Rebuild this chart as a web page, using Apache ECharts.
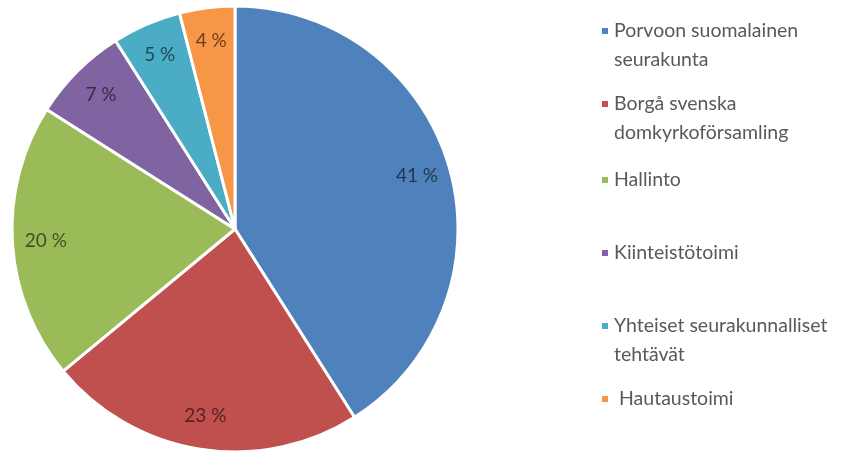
<!DOCTYPE html>
<html>
<head>
<meta charset="utf-8">
<script src="https://cdn.jsdelivr.net/npm/echarts@6/dist/echarts.min.js"></script>
<style>
  html, body { margin: 0; padding: 0; background: #fff; }
  #chart { width: 867px; height: 452px; }
</style>
</head>
<body>
<div id="chart"></div>
<script>
var names = [
  "Porvoon suomalainen\nseurakunta",
  "Borgå svenska\ndomkyrkoförsamling",
  "Hallinto",
  "Kiinteistötoimi",
  "Yhteiset seurakunnalliset\ntehtävät",
  " Hautaustoimi"
];
var values = [41, 23, 20, 7, 5, 4];
var colors = ["#4F81BD", "#C0504D", "#9BBB59", "#8064A2", "#4BACC6", "#F79646"];
// legend marker rows (y of marker centre)
var legendRows = [31, 104, 180, 253, 326, 399];

var myChart = echarts.init(document.getElementById("chart"));

var pieData = names.map(function (n, i) {
  return { name: n, value: values[i], itemStyle: { color: colors[i] } };
});

var lineH = 29;
var legends = names.map(function (n, i) {
  var lines = n.split("\n").length;
  // marker sits on the first text line: tall icon box with the square at its top
  var boxH = lines > 1 ? 8 + (lines - 1) * lineH : 8;
  var icon = lines > 1
    ? "path://M0,0h8v8h-8z M0," + (boxH - 0.05) + "h0.05v0.05h-0.05z"
    : "rect";
  return {
    orient: "vertical",
    left: 595,
    top: legendRows[i] - lineH / 2 - 5,
    itemWidth: 8,
    itemHeight: boxH,
    itemGap: 0,
    icon: icon,
    symbolKeepAspect: false,
    selectedMode: false,
    data: [n],
    textStyle: {
      fontFamily: "Lato",
      fontSize: 19.5,
      color: "#595959",
      lineHeight: lineH
    }
  };
});

myChart.setOption({
  animation: false,
  color: colors,
  legend: legends,
  series: [
    {
      type: "pie",
      center: [235, 229],
      radius: [0, 223],
      startAngle: 90,
      clockwise: true,
      silent: true,
      itemStyle: { borderColor: "#fff", borderWidth: 3 },
      label: { show: false },
      labelLine: { show: false },
      data: pieData
    },
    {
      // label ring only
      type: "pie",
      center: [235, 229],
      radius: [150, 223],
      startAngle: 90,
      clockwise: true,
      silent: true,
      legendHoverLink: false,
      itemStyle: { color: "transparent", borderWidth: 0 },
      labelLine: { show: false },
      label: {
        show: true,
        position: "inside",
        formatter: "{c} %",
        fontFamily: "Lato",
        fontSize: 19,
        color: "rgba(0,0,0,0.58)",
        textBorderWidth: 0
      },
      data: names.map(function (n, i) {
        return { name: n, value: values[i] };
      })
    }
  ]
});
</script>
</body>
</html>
